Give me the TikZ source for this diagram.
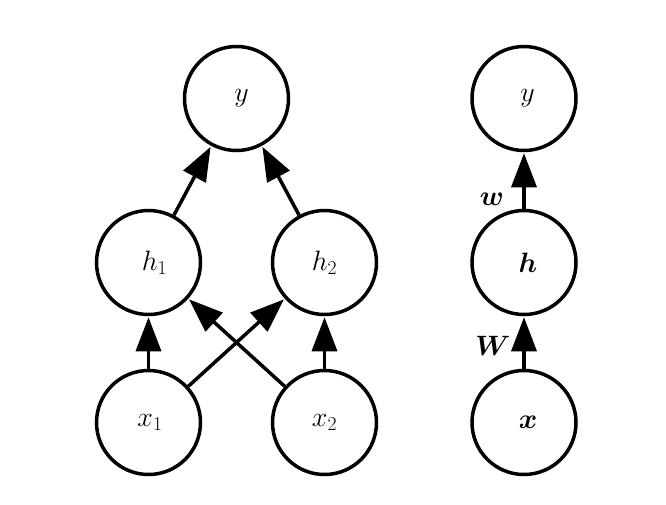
\documentclass[tikz,border=0pt]{standalone}
\usepackage{fix-cm}
\usepackage{amsmath,amssymb,bm}
\usetikzlibrary{arrows.meta}
\begin{document}
\begin{tikzpicture}[x=1pt,y=-1pt,
  unit/.style={circle,draw,line width=3.5pt,minimum size=104pt,inner sep=0pt,font=\fontsize{28}{32}\selectfont},
  nudge/.style={execute at begin node={\hspace*{#1}}},
  edge/.style={line width=3.5pt,-{Triangle[length=34pt,width=25pt]},shorten >=1pt},
  lbl/.style={font=\fontsize{28}{32}\selectfont}]
\useasboundingbox (0,0) rectangle (666,504);
\node[unit,nudge=10pt] (y) at (236.5,98.5) {$y$};
\node[unit,nudge=12pt] (h1) at (148.5,262.5) {$h_1$};
\node[unit] (h2) at (324.5,262.5) {$h_2$};
\node[unit,nudge=3pt] (x1) at (148.5,422.5) {$x_1$};
\node[unit] (x2) at (324.5,422.5) {$x_2$};
\node[unit,nudge=7pt] (yr) at (524,98.5) {$y$};
\node[unit,nudge=8pt] (h) at (524,262.5) {$\bm{h}$};
\node[unit,nudge=8pt] (x) at (524,422.5) {$\bm{x}$};
\draw[edge] (x1) -- (h1);
\draw[edge] (x1) -- (h2);
\draw[edge] (x2) -- (h1);
\draw[edge] (x2) -- (h2);
\draw[edge] (h1) -- (y);
\draw[edge] (h2) -- (y);
\draw[edge] (x) -- (h);
\draw[edge] (h) -- (yr);
\node[lbl] (lw) at (492,199) {$\bm{w}$};
\node[lbl] (lW) at (493,346) {$\bm{W}$};
\end{tikzpicture}
\end{document}
